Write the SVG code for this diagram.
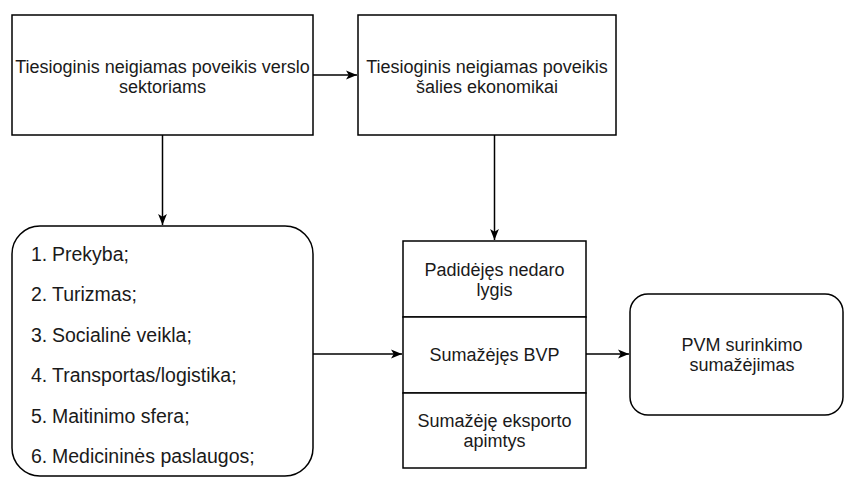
<svg xmlns="http://www.w3.org/2000/svg" width="845" height="477" viewBox="0 0 845 477">
<defs>
<marker id="arr" viewBox="0 0 10 10" refX="10" refY="5" markerWidth="11" markerHeight="11" markerUnits="userSpaceOnUse" orient="auto">
<path d="M0,1 L10,5 L0,9 L2.5,5 Z" fill="#000"/>
</marker>
</defs>
<style>
.b{fill:#fff;stroke:#000;stroke-width:1.5}
.t{font-family:"Liberation Sans",Arial,sans-serif;font-size:18px;fill:#1a1a1a;text-anchor:middle}
.l{font-family:"Liberation Sans",Arial,sans-serif;font-size:19.5px;fill:#1a1a1a}
.c{fill:none;stroke:#000;stroke-width:1.5}
</style>
<rect width="845" height="477" fill="#fff"/>
<g id="connectors">
<path class="c" d="M313,75 L357,75" marker-end="url(#arr)"/>
<path class="c" d="M162.5,135 L162.5,225" marker-end="url(#arr)"/>
<path class="c" d="M494.5,135 L494.5,240" marker-end="url(#arr)"/>
<path class="c" d="M313,354 L402,354" marker-end="url(#arr)"/>
<path class="c" d="M586,354 L629,354" marker-end="url(#arr)"/>
</g>
<g id="node-verslo">
<rect class="b" x="12" y="15" width="301" height="120"/>
<text class="t" x="162.5" y="72.5">Tiesioginis neigiamas poveikis verslo</text>
<text class="t" x="162.5" y="92.5">sektoriams</text>
</g>
<g id="node-salies">
<rect class="b" x="358" y="15" width="258" height="120"/>
<text class="t" x="487" y="72.5">Tiesioginis neigiamas poveikis</text>
<text class="t" x="487" y="92.5">šalies ekonomikai</text>
</g>
<g id="node-sektoriai">
<rect class="b" x="12" y="226" width="301" height="250" rx="28" ry="28"/>
<text class="l" y="260.5"><tspan x="31">1.</tspan><tspan x="52">Prekyba;</tspan></text>
<text class="l" y="301"><tspan x="31">2.</tspan><tspan x="52">Turizmas;</tspan></text>
<text class="l" y="341.5"><tspan x="31">3.</tspan><tspan x="52">Socialinė veikla;</tspan></text>
<text class="l" y="382"><tspan x="31">4.</tspan><tspan x="52">Transportas/logistika;</tspan></text>
<text class="l" y="422.5"><tspan x="31">5.</tspan><tspan x="52">Maitinimo sfera;</tspan></text>
<text class="l" y="463"><tspan x="31">6.</tspan><tspan x="52">Medicininės paslaugos;</tspan></text>
</g>
<g id="node-nedarbas">
<rect class="b" x="403" y="241" width="183" height="76"/>
<text class="t" x="494.5" y="275.5">Padidėjęs nedaro</text>
<text class="t" x="494.5" y="295.5">lygis</text>
</g>
<g id="node-bvp">
<rect class="b" x="403" y="317" width="183" height="76"/>
<text class="t" x="494.5" y="361">Sumažėjęs BVP</text>
</g>
<g id="node-eksportas">
<rect class="b" x="403" y="393" width="183" height="75"/>
<text class="t" x="494.5" y="427">Sumažėję eksporto</text>
<text class="t" x="494.5" y="447">apimtys</text>
</g>
<g id="node-pvm">
<rect class="b" x="630" y="294" width="213" height="121" rx="18" ry="18"/>
<text class="t" x="742" y="351">PVM surinkimo</text>
<text class="t" x="742" y="371">sumažėjimas</text>
</g>
</svg>
